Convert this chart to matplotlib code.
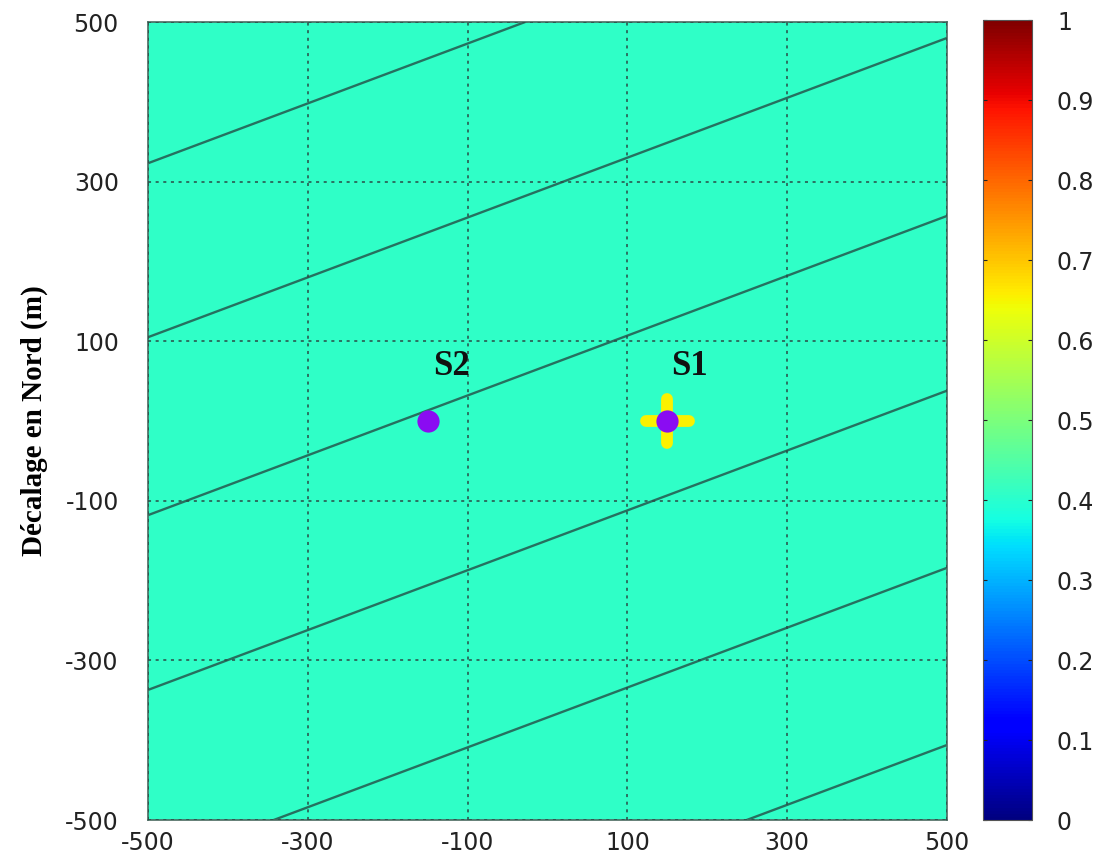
import numpy as np
import matplotlib
matplotlib.use("Agg")
import matplotlib.pyplot as plt

plt.rcParams["axes.unicode_minus"] = False

# ---- data ----
x_ticks = [-500, -300, -100, 100, 300, 500]
y_ticks = [-500, -300, -100, 100, 300, 500]
cbar_ticks = [0, 0.1, 0.2, 0.3, 0.4, 0.5, 0.6, 0.7, 0.8, 0.9, 1]
cbar_labels = ["0", "0.1", "0.2", "0.3", "0.4", "0.5", "0.6", "0.7", "0.8", "0.9", "1"]
field_value = 0.41
contour_slope = 0.375
contour_y_at_left = [323, 105, -118, -337, -559, -781]   # y value of each contour at x = -500
src_names = ["S1", "S2"]
src_x = [150, -150]
src_y = [0, 0]
label_x = [178, -120]
label_y = [68, 68]
cross_half = 27          # S1 highlight arms (data units)

fig = plt.figure(figsize=(10.99, 8.66), dpi=100)
ax = fig.add_axes([148/1099, 46/866, 799/1099, 798/866])
cax = fig.add_axes([983/1099, 46/866, 49/1099, 800/866])

cmap = plt.get_cmap("jet")
im = ax.imshow(np.full((2, 2), field_value), extent=[-500, 500, -500, 500],
               cmap=cmap, vmin=0, vmax=1, origin="lower", aspect="auto", zorder=0)

# contour lines
xs = np.array([-500, 500])
for y0 in contour_y_at_left:
    ax.plot(xs, y0 + contour_slope * (xs + 500), color="#26705f", lw=1.7, zorder=2)

# highlight cross on S1
sx, sy = src_x[0], src_y[0]
ycol = cmap(0.655)
ax.plot([sx - cross_half, sx + cross_half], [sy, sy], color=ycol, lw=8.5,
        solid_capstyle="round", zorder=3)
ax.plot([sx, sx], [sy - cross_half, sy + cross_half], color=ycol, lw=8.5,
        solid_capstyle="round", zorder=3)

# sources
ax.plot(src_x, src_y, "o", color="#8a0cf2", markersize=16, markeredgewidth=0, zorder=4)
for n, lx, ly in zip(src_names, label_x, label_y):
    ax.text(lx, ly, n, ha="center", va="center", fontsize=25, fontweight="bold",
            family="Liberation Serif", color="#111111", zorder=5)

ax.set_xlim(-500, 500)
ax.set_ylim(-500, 500)
ax.set_xticks(x_ticks)
ax.set_yticks(y_ticks)
ax.grid(True, color="#2a4a45", linestyle=(0, (2, 3)), linewidth=1.1, zorder=1)
ax.set_axisbelow(False)
ax.tick_params(axis="both", length=0, labelsize=17, colors="#222222")
ax.tick_params(axis="x", pad=8)
ax.tick_params(axis="y", pad=21)
for s in ax.spines.values():
    s.set_color("#4a6a60")
    s.set_linewidth(1.2)
ax.set_ylabel("Décalage en Nord (m)", family="Liberation Serif", fontweight="bold",
              fontsize=21, labelpad=12)

cb = fig.colorbar(im, cax=cax, ticks=cbar_ticks)
cb.ax.set_yticklabels(cbar_labels)
cb.ax.tick_params(labelsize=17, colors="#222222", length=3, direction="in",
                  left=True, right=True, pad=18)
cb.outline.set_edgecolor("#555555")

fig.savefig("out.png", dpi=100)
